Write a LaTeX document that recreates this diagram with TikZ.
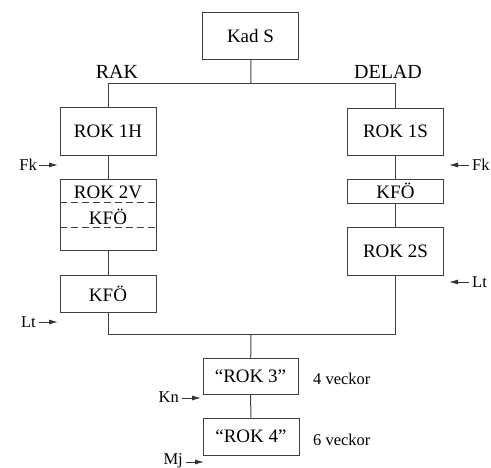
\documentclass[tikz,border=0pt]{standalone}
\usepackage{fontspec}
\setmainfont{Liberation Serif}
\usetikzlibrary{arrows.meta}
\begin{document}
\begin{tikzpicture}[x=1pt,y=-1pt,
  box/.style={draw=black!75,line width=1pt,inner sep=0pt,minimum width=96pt,font=\fontsize{19}{21}\selectfont},
  conn/.style={draw=black!75,line width=1pt},
  side/.style={font=\fontsize{16.5}{18}\selectfont,inner sep=0pt},
  feed/.style={draw=black!80,line width=0.9pt,-{Latex[length=9pt,width=5pt]}},
  lbl/.style={font=\fontsize{19}{21}\selectfont,inner sep=0pt}]
\useasboundingbox (0,0) rectangle (491,467);
% boxes
\node[box,minimum height=47pt] (kad) at (250.5,35.5) {Kad S};
\node[box,minimum height=48pt] (rok1h) at (108,131) {ROK 1H};
\node[box,minimum height=47pt] (rok1s) at (395.5,131.5) {ROK 1S};
\node[box,minimum height=71pt] (rok2v) at (108,214.5) {};
\node[lbl] (t2v) at (108,192) {ROK 2V};
\node[lbl] (tkfo) at (108,216.5) {KFÖ};
\draw[draw=black!75,line width=1pt,dash pattern=on 7pt off 4pt] (rok2v.west |- 0,202) -- (rok2v.east |- 0,202);
\draw[draw=black!75,line width=1pt,dash pattern=on 7pt off 4pt] (rok2v.west |- 0,227) -- (rok2v.east |- 0,227);
\node[box,minimum height=37pt] (kfol) at (108,293.5) {KFÖ};
\node[box,minimum height=24pt] (kfor) at (395.5,191) {KFÖ};
\node[box,minimum height=48pt] (rok2s) at (395.5,251) {ROK 2S};
\node[box,minimum height=36pt,minimum width=95pt] (rok3) at (250.5,376) {``ROK 3''};
\node[box,minimum height=37pt] (rok4) at (251,436.5) {``ROK 4''};
% labels
\node[lbl,font=\fontsize{20}{22}\selectfont] (rak) at (117,72) {RAK};
\node[lbl,font=\fontsize{20}{22}\selectfont] (delad) at (388,72) {DELAD};
\node[side,anchor=west] (v4) at (313,379) {4 veckor};
\node[side,anchor=west] (v6) at (313,440) {6 veckor};
% connectors
\coordinate (top) at (251,83);
\coordinate (bot) at (251,334);
\draw[conn] (kad) -- (top);
\draw[conn] (top) -| (rok1h);
\draw[conn] (top) -| (rok1s);
\draw[conn] (rok1h) -- (rok2v);
\draw[conn] (rok2v) -- (kfol);
\draw[conn] (rok1s) -- (kfor);
\draw[conn] (kfor) -- (rok2s);
\draw[conn] (kfol) |- (bot);
\draw[conn] (rok2s) |- (bot);
\draw[conn] (bot) -- (rok3);
\draw[conn] (rok3) -- (rok4);
% feeds
\node[side,anchor=east] (fkl) at (37,165) {Fk};
\coordinate (fkle) at (58,165);
\draw[feed] (fkl.east) ++(2,0) -- (fkle);
\node[side,anchor=west] (fkr) at (472,165) {Fk};
\coordinate (fkre) at (449,165);
\draw[feed] (fkr.west) ++(-3,0) -- (fkre);
\node[side,anchor=east] (ltl) at (36,322) {Lt};
\coordinate (ltle) at (58,322);
\draw[feed] (ltl.east) ++(3,0) -- (ltle);
\node[side,anchor=west] (ltr) at (472,282) {Lt};
\coordinate (ltre) at (449,282);
\draw[feed] (ltr.west) ++(-3,0) -- (ltre);
\node[side,anchor=east] (kn) at (179,397) {Kn};
\coordinate (kne) at (201,398);
\draw[feed] (kn.east) ++(3,1) -- (kne);
\node[side,anchor=east] (mj) at (183,461) {Mj};
\coordinate (mje) at (204,462);
\draw[feed] (mj.east) ++(3,1) -- (mje);
\end{tikzpicture}
\end{document}
